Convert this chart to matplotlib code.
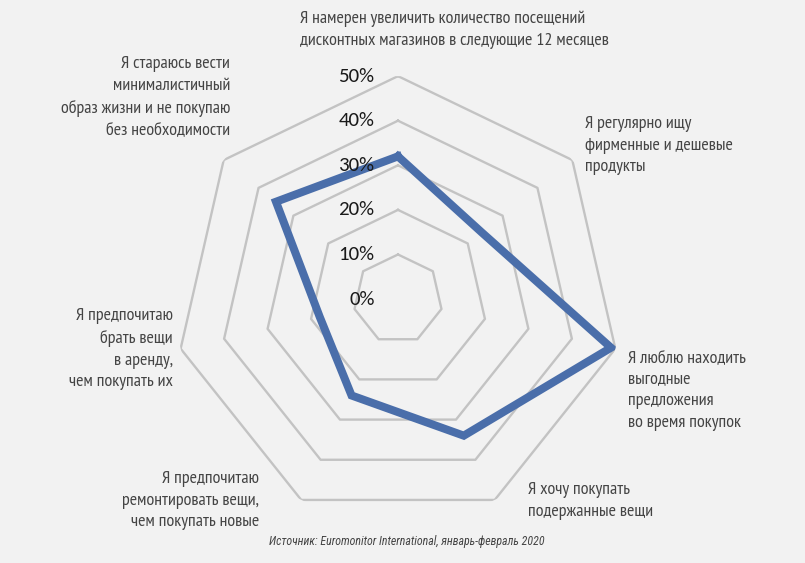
import numpy as np
import matplotlib
matplotlib.use("Agg")
import matplotlib.pyplot as plt

# данные (доля респондентов, %)
categories = [
    "Я намерен увеличить количество посещений\nдисконтных магазинов в следующие 12 месяцев",
    "Я регулярно ищу\nфирменные и дешевые\nпродукты",
    "Я люблю находить\nвыгодные\nпредложения\nво время покупок",
    "Я хочу покупать\nподержанные вещи",
    "Я предпочитаю\nремонтировать вещи,\nчем покупать новые",
    "Я предпочитаю\nбрать вещи\nв аренду,\nчем покупать их",
    "Я стараюсь вести\nминималистичный\nобраз жизни и не покупаю\nбез необходимости",
]
values = [32, 24, 49, 34, 24, 18, 35]
rings = [10, 20, 30, 40, 50]
tick_labels = ["0%", "10%", "20%", "30%", "40%", "50%"]
tick_values = [0, 10, 20, 30, 40, 50]
source = "Источник: Euromonitor International, январь-февраль 2020"

bg = "#f2f2f2"
txt_color = "#444444"
label_font = ["PT Sans Narrow", "Roboto Condensed", "Fira Sans Condensed", "DejaVu Sans"]
italic_font = ["Roboto Condensed", "Fira Sans Condensed", "DejaVu Sans"]
tick_font = ["Carlito", "Open Sans", "DejaVu Sans"]

fig = plt.figure(figsize=(8.05, 5.63), dpi=100, facecolor=bg)
ax = fig.add_axes([0.2174, 0.0728, 0.554, 0.792], projection="polar")
ax.set_facecolor(bg)
ax.set_theta_offset(np.pi / 2)
ax.set_theta_direction(-1)
ax.set_ylim(0, 50)
ax.grid(False)
ax.spines["polar"].set_visible(False)
ax.set_xticks([])
ax.set_yticks([])

n = len(values)
angles = np.linspace(0, 2 * np.pi, n, endpoint=False)
closed = np.append(angles, angles[0])

## кольца сетки
for r in rings:
    ax.plot(closed, [r] * (n + 1), color="#c3c3c3", lw=1.7, zorder=1)

## ряд данных
ax.plot(closed, values + values[:1], color="#4a6eaa", lw=5.8,
        solid_joinstyle="miter", zorder=3)

## подписи шкалы
for v, lab in zip(tick_values, tick_labels):
    ax.annotate(lab, xy=(0, v), xytext=(-17, 0), textcoords="offset points",
                ha="right", va="center", fontsize=15, color="#1a1a1a",
                family=tick_font, zorder=4)

## подписи категорий (положение на рисунке)
fs = 13
kw = dict(fontsize=fs, color=txt_color, family=label_font,
          linespacing=1.47, va="top")
fig.text(300 / 805, 1 - 11 / 563, categories[0], ha="left", **kw)
fig.text(585 / 805, 1 - 116 / 563, categories[1], ha="left", **kw)
fig.text(628 / 805, 1 - 350 / 563, categories[2], ha="left", **kw)
fig.text(528 / 805, 1 - 482 / 563, categories[3], ha="left", **kw)
fig.text(259 / 805, 1 - 471 / 563, categories[4], ha="right", multialignment="right", **kw)
fig.text(173 / 805, 1 - 308 / 563, categories[5], ha="right", multialignment="right", **kw)
fig.text(230 / 805, 1 - 56 / 563, categories[6], ha="right", multialignment="right", **kw)

fig.text(407 / 805, 1 - 542 / 563, source, ha="center", va="center",
         fontsize=8.6, style="italic", color=txt_color, family=italic_font)

fig.savefig("out.png", dpi=100, facecolor=bg)
